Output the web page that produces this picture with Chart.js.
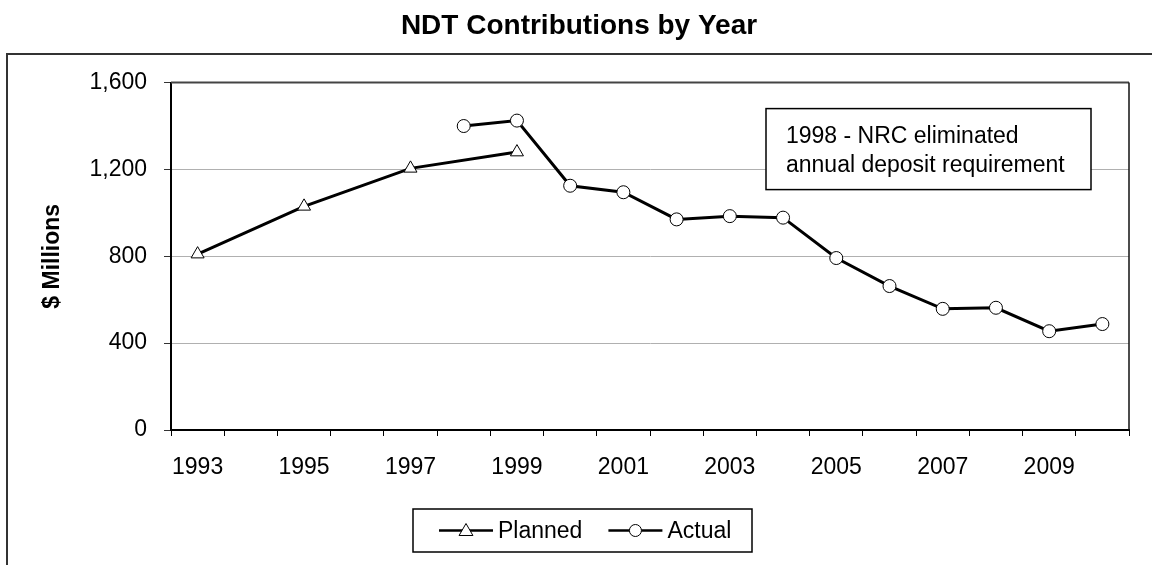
<!DOCTYPE html>
<html>
<head>
<meta charset="utf-8">
<title>NDT Contributions by Year</title>
<script src="https://cdn.jsdelivr.net/npm/chart.js@4.4.1/dist/chart.umd.min.js"></script>
<style>
  html, body { margin: 0; padding: 0; background: #fff; }
  canvas { display: block; }
</style>
</head>
<body>
<canvas id="chart" width="1152" height="565"></canvas>
<script>
// data ($ millions)
const years = ['1993', '1994', '1995', '1996', '1997', '1998', '1999', '2000', '2001',
  '2002', '2003', '2004', '2005', '2006', '2007', '2008', '2009', '2010'];
const planned = [810, null, 1030, null, 1205, null, 1280, null, null,
  null, null, null, null, null, null, null, null, null];
const actual = [null, null, null, null, null, 1400, 1425, 1125, 1095,
  970, 985, 978, 792, 663, 558, 563, 455, 488];
const yTicks = [0, 400, 800, 1200, 1600];
const noteLines = ['1998 - NRC eliminated', 'annual deposit requirement'];

const FONT = "Arial, 'Liberation Sans', sans-serif";

// white page + outer frame + plot border
const framePlugin = {
  id: 'frame',
  beforeDraw(chart) {
    const ctx = chart.ctx;
    ctx.save();
    ctx.fillStyle = '#fff';
    ctx.fillRect(0, 0, chart.width, chart.height);
    ctx.strokeStyle = '#333';
    ctx.lineWidth = 2;
    ctx.strokeRect(7, 54, chart.width + 20, chart.height + 20);
    ctx.restore();
  },
  beforeDatasetsDraw(chart) {
    const { ctx, chartArea: a } = chart;
    ctx.save();
    ctx.strokeStyle = '#444';
    ctx.lineWidth = 2;
    ctx.beginPath();
    ctx.moveTo(a.left, a.top);
    ctx.lineTo(a.right, a.top);
    ctx.stroke();
    ctx.strokeStyle = '#111';
    ctx.lineWidth = 1.5;
    ctx.beginPath();
    ctx.moveTo(a.right, a.top);
    ctx.lineTo(a.right, a.bottom);
    ctx.stroke();
    ctx.restore();
  }
};

function marker(ctx, style, x, y, r) {
  ctx.beginPath();
  if (style === 'triangle') {
    ctx.moveTo(x, y - r);
    ctx.lineTo(x + r * 0.866, y + r / 2);
    ctx.lineTo(x - r * 0.866, y + r / 2);
    ctx.closePath();
  } else {
    ctx.arc(x, y, r, 0, Math.PI * 2);
  }
  ctx.fillStyle = '#fff';
  ctx.fill();
  ctx.strokeStyle = '#000';
  ctx.lineWidth = 1;
  ctx.stroke();
}

// text box with the note + legend at the bottom
const notesPlugin = {
  id: 'notes',
  afterDraw(chart) {
    const { ctx, chartArea: a } = chart;
    ctx.save();

    // note box
    const bx = a.right - 363, by = a.top + 26, bw = 325, bh = 81;
    ctx.fillStyle = '#fff';
    ctx.fillRect(bx, by, bw, bh);
    ctx.strokeStyle = '#000';
    ctx.lineWidth = 1.5;
    ctx.strokeRect(bx, by, bw, bh);
    ctx.fillStyle = '#000';
    ctx.font = '23px ' + FONT;
    ctx.textBaseline = 'alphabetic';
    ctx.textAlign = 'left';
    noteLines.forEach((t, i) => ctx.fillText(t, bx + 20, by + 34 + i * 29));

    // legend
    const lx = 413, ly = 509, lw = 339, lh = 43;
    ctx.strokeStyle = '#000';
    ctx.lineWidth = 1.5;
    ctx.strokeRect(lx, ly, lw, lh);
    const cy = ly + lh / 2;
    let x = lx + 26;
    chart.data.datasets.forEach(ds => {
      ctx.strokeStyle = '#000';
      ctx.lineWidth = 2.5;
      ctx.beginPath();
      ctx.moveTo(x, cy);
      ctx.lineTo(x + 54, cy);
      ctx.stroke();
      marker(ctx, ds.pointStyle, x + 27, cy + (ds.pointStyle === 'triangle' ? 1 : 0), ds.pointStyle === 'triangle' ? 8 : 6);
      ctx.fillStyle = '#000';
      ctx.font = '23px ' + FONT;
      ctx.textBaseline = 'middle';
      ctx.fillText(ds.label, x + 59, cy + 1);
      x += 59 + ctx.measureText(ds.label).width + 26;
    });
    ctx.restore();
  }
};

new Chart(document.getElementById('chart'), {
  type: 'line',
  data: {
    labels: years,
    datasets: [
      {
        label: 'Planned',
        data: planned,
        spanGaps: true,
        borderColor: '#000',
        borderWidth: 3,
        pointStyle: 'triangle',
        pointRadius: 7.5,
        pointBackgroundColor: '#fff',
        pointBorderColor: '#000',
        pointBorderWidth: 1
      },
      {
        label: 'Actual',
        data: actual,
        spanGaps: true,
        borderColor: '#000',
        borderWidth: 3,
        pointStyle: 'circle',
        pointRadius: 6.5,
        pointBackgroundColor: '#fff',
        pointBorderColor: '#000',
        pointBorderWidth: 1
      }
    ]
  },
  options: {
    responsive: false,
    animation: false,
    layout: { padding: { left: 29, right: 23, top: 0, bottom: 0 } },
    plugins: {
      legend: { display: false },
      tooltip: { enabled: false },
      title: {
        display: true,
        text: 'NDT Contributions by Year',
        color: '#000',
        font: { family: FONT, size: 28, weight: 'bold' },
        padding: { top: 9, bottom: 40 }
      }
    },
    scales: {
      x: {
        offset: true,
        grid: {
          offset: true,
          drawOnChartArea: false,
          color: '#000',
          tickLength: 6
        },
        border: { color: '#000', width: 2 },
        ticks: {
          autoSkip: false,
          maxRotation: 0,
          padding: 18,
          color: '#000',
          font: { family: FONT, size: 23 },
          callback: (v, i) => (i % 2 === 0 ? years[i] : '')
        },
        afterFit: s => { s.height = 135; }
      },
      y: {
        min: yTicks[0],
        max: yTicks[yTicks.length - 1],
        afterBuildTicks: s => { s.ticks = yTicks.map(v => ({ value: v })); },
        grid: {
          color: '#b0b0b0',
          tickColor: '#333',
          tickLength: 7,
          lineWidth: 1
        },
        border: { color: '#000', width: 2 },
        ticks: {
          padding: 17,
          color: '#000',
          font: { family: FONT, size: 23 },
          callback: v => v.toLocaleString('en-US')
        },
        title: {
          display: true,
          text: '$ Millions',
          color: '#000',
          font: { family: FONT, size: 23, weight: 'bold' },
          padding: { top: 10, bottom: 0 }
        },
        afterFit: s => { s.width = 142; }
      }
    }
  },
  plugins: [framePlugin, notesPlugin]
});
</script>
</body>
</html>
